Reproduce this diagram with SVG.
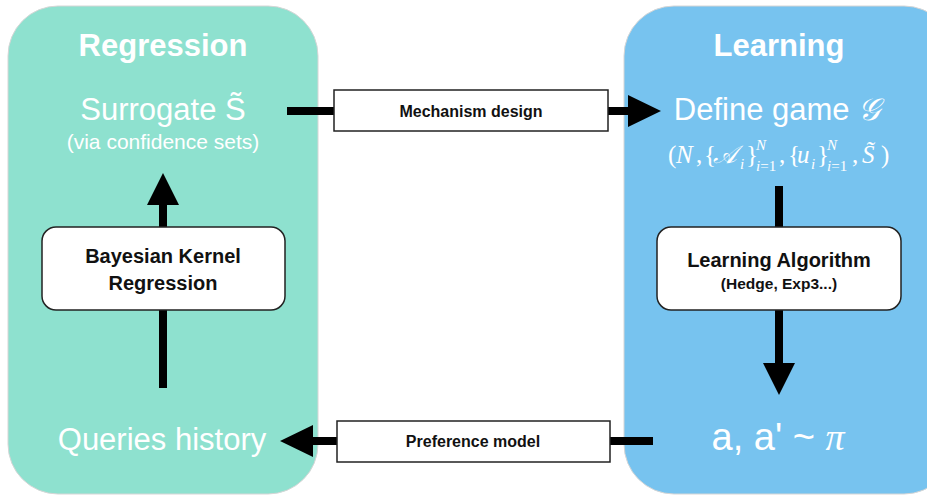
<svg xmlns="http://www.w3.org/2000/svg" width="927" height="495" viewBox="0 0 927 495">
<defs>
<style>
.panel-l{fill:#8EE1CF;stroke:#d6d6d6;stroke-width:1}
.panel-r{fill:#77C3EF;stroke:#d6d6d6;stroke-width:1}
.title{font-family:"Liberation Sans",Arial,sans-serif;font-weight:bold;font-size:31px;fill:#fff;text-anchor:middle}
.big{font-family:"Liberation Sans",Arial,sans-serif;font-size:31px;fill:#fff;text-anchor:middle}
.sub{font-family:"Liberation Sans",Arial,sans-serif;font-size:21px;fill:#fff;text-anchor:middle}
.math{font-family:"Liberation Serif","DejaVu Serif",serif;font-style:italic;fill:#fff}
.mathr{font-family:"Liberation Serif","DejaVu Serif",serif;fill:#fff}
.box{fill:#fff;stroke:#222;stroke-width:1.5}
.btxt{font-family:"Liberation Sans",Arial,sans-serif;font-weight:bold;fill:#111;text-anchor:middle}
.line{stroke:#000;stroke-width:8;fill:none}
.head{fill:#000}
</style>
</defs>
<rect width="927" height="495" fill="#fff"/>
<g id="regression-panel">
<rect class="panel-l" x="8" y="6" width="310" height="488" rx="50" ry="50"/>
<text class="title" x="163" y="56">Regression</text>
</g>
<g id="learning-panel">
<rect class="panel-r" x="624" y="6" width="330" height="488" rx="50" ry="50"/>
<text class="title" x="779" y="56">Learning</text>
</g>
<g id="connectors">
<line class="line" x1="163" y1="388" x2="163" y2="200"/>
<polygon class="head" points="163,173 147,205 179,205"/>
<line class="line" x1="779" y1="186" x2="779" y2="368"/>
<polygon class="head" points="779,395 763,363 795,363"/>
<line class="line" x1="287" y1="111" x2="632" y2="111"/>
<polygon class="head" points="661,111 628,95 628,127"/>
<line class="line" x1="653" y1="441" x2="308" y2="441"/>
<polygon class="head" points="280,441 313,425 313,457"/>
</g>
<g id="surrogate">
<text class="big" x="163" y="120">Surrogate S̃</text>
<text class="sub" x="163" y="149">(via confidence sets)</text>
</g>
<g id="define-game">
<text class="big" x="777" y="120">Define game <tspan class="math">𝒢</tspan></text>
<g font-size="25">
<text class="mathr" x="668" y="163">(</text>
<text class="math" x="676" y="163">N</text>
<text class="mathr" x="696" y="163">,</text>
<text class="mathr" x="704" y="163">{</text>
<text class="math" x="713" y="163">𝒜</text>
<text class="math" x="740" y="169" font-size="15">i</text>
<text class="mathr" x="746" y="163">}</text>
<text class="math" x="756" y="150" font-size="15">N</text>
<text class="mathr" x="756" y="171" font-size="15"><tspan font-style="italic">i</tspan>=1</text>
<text class="mathr" x="779" y="163">,</text>
<text class="mathr" x="788" y="163">{</text>
<text class="math" x="797" y="163">u</text>
<text class="math" x="811" y="169" font-size="15">i</text>
<text class="mathr" x="817" y="163">}</text>
<text class="math" x="827" y="150" font-size="15">N</text>
<text class="mathr" x="827" y="171" font-size="15"><tspan font-style="italic">i</tspan>=1</text>
<text class="mathr" x="852" y="163">,</text>
<text class="math" x="862" y="163">S̃</text>
<text class="mathr" x="881" y="163">)</text>
</g>
</g>
<g id="bayesian-kernel-regression">
<rect class="box" x="42" y="227" width="243" height="83" rx="14" ry="14"/>
<text class="btxt" x="163" y="263" font-size="20">Bayesian Kernel</text>
<text class="btxt" x="163" y="290" font-size="20">Regression</text>
</g>
<g id="learning-algorithm">
<rect class="box" x="657" y="227" width="244" height="83" rx="14" ry="14"/>
<text class="btxt" x="779" y="267" font-size="20">Learning Algorithm</text>
<text class="btxt" x="779" y="289" font-size="15.5">(Hedge, Exp3...)</text>
</g>
<g id="queries-history">
<text class="big" x="162" y="450">Queries history</text>
</g>
<g id="actions">
<text class="big" x="778" y="450" style="font-size:38px"><tspan>a, a' ~ </tspan><tspan class="math">π</tspan></text>
</g>
<g id="mechanism-design">
<rect class="box" x="334" y="90" width="274" height="41"/>
<text class="btxt" x="471" y="117" font-size="16">Mechanism design</text>
</g>
<g id="preference-model">
<rect class="box" x="337" y="421" width="273" height="41"/>
<text class="btxt" x="473" y="447" font-size="16">Preference model</text>
</g>
</svg>
